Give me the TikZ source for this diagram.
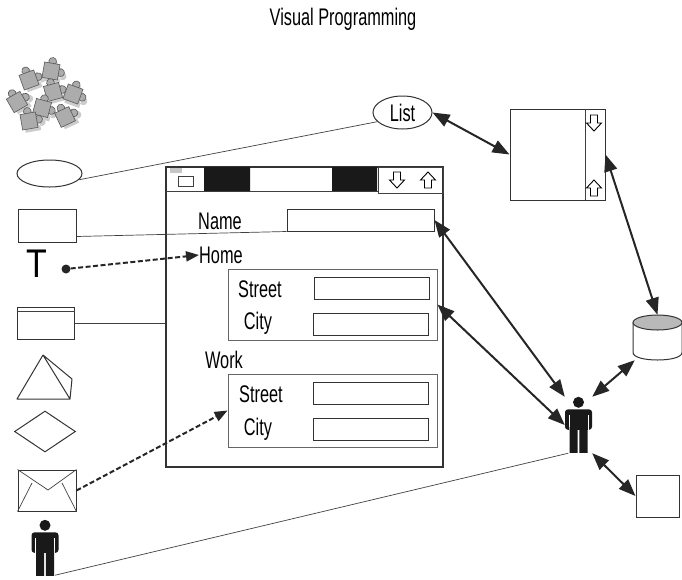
\documentclass[tikz,border=0pt]{standalone}
\usepackage{fontspec}
\setmainfont{Liberation Sans}[FakeStretch=0.68]
\newfontfamily\glyphfont{Liberation Sans}[FakeStretch=0.85]
\usetikzlibrary{arrows.meta,shapes.geometric}

\begin{document}
\begin{tikzpicture}[x=1pt,y=-1pt,
  wire/.style={draw=black!75,line width=0.7pt},
  tool/.style={draw=black!80,line width=1pt,inner sep=0pt},
  word/.style={font=\fontsize{24}{24}\selectfont,inner sep=0pt},
  field/.style={draw=black!80,line width=1pt,minimum width=115pt,minimum height=22pt,inner sep=0pt},
  group/.style={draw=black!60,line width=0.9pt,minimum width=209pt,inner sep=0pt},
  agent/.style={minimum width=27pt,minimum height=56pt,inner sep=0pt},
  link/.style={<->,draw=black!85,line width=2pt,>={Triangle[length=17pt,width=13pt]}},
  flow/.style={->,draw=black!85,line width=2pt,dash pattern=on 5pt off 2.5pt,>={Triangle[length=13pt,width=10pt]}},
  person/.pic={
    \fill[black!90] (0,5.5) circle[radius=5.5];
    \fill[black!90,rounded corners=3pt] (-13.5,12.5) rectangle (13.5,33);
    \draw[white,line width=0.8pt] (-9.5,18) -- (-9.5,34) (9.5,18) -- (9.5,34);
    \fill[black!90] (-9,30) rectangle (-0.8,56) (0.8,30) rectangle (9,56);
  },
  downarrow/.pic={
    \draw[line width=0.9pt,fill=white] (-3.5,-8) -- (3.5,-8) -- (3.5,0) -- (7.5,0) -- (0,8) -- (-7.5,0) -- (-3.5,0) -- cycle;
  },
  uparrow/.pic={
    \draw[line width=0.9pt,fill=white] (-3.5,8) -- (3.5,8) -- (3.5,0) -- (7.5,0) -- (0,-8) -- (-7.5,0) -- (-3.5,0) -- cycle;
  },
  piece/.pic={
    \fill[gray!40] (2,-4.5) circle[radius=3] (9.5,2.5) circle[radius=3] (-4,-3.5) rectangle (8,8.5);
    \filldraw[fill=gray!65,draw=black!65,line width=0.6pt] (0,-7.5) circle[radius=3] (7.5,0) circle[radius=3];
    \filldraw[fill=gray!65,draw=black!65,line width=0.6pt] (-6,-6) rectangle (6,6);
  }]
  \useasboundingbox (0,0) rectangle (682,579);

  \node[font=\fontsize{24}{24}\selectfont,inner sep=0pt] (title) at (343,19) {Visual Programming};

  % palette
  \foreach \x/\y/\a in {29/80/20,51/71/-10,53/92/15,73/94/-20,17/102/30,42/108/-15,29/121/10,65/117/25}
    \pic[rotate=\a,scale=1.3] at (\x,\y) {piece};
  \node[tool,ellipse,minimum width=65pt,minimum height=27pt] (p_oval) at (49.5,173.5) {};
  \node[tool,minimum width=58pt,minimum height=33pt] (p_box) at (47,225.5) {};
  \node[font=\glyphfont\fontsize{40}{40}\selectfont,inner sep=0pt] (p_text) at (37,264) {T};
  \node[circle,fill=black!85,inner sep=0pt,minimum size=9pt] (p_dot) at (66,269) {};
  \node[tool,minimum width=57pt,minimum height=32pt] (p_win) at (45.5,323) {};
  \draw[wire] ([yshift=-5pt]p_win.north west) -- ([yshift=-5pt]p_win.north east);
  \draw[tool,line join=round] (43,355) -- (17,399) -- (70,399) -- cycle (43,355) -- (72,379) -- (70,399);
  \node[tool,diamond,minimum width=61pt,minimum height=41pt] (p_choice) at (45,431.5) {};
  \node[tool,minimum width=58pt,minimum height=41pt] (p_mail) at (47,490.5) {};
  \draw[wire] (p_mail.north west) -- (48,490) -- (p_mail.north east);
  \draw[wire] (p_mail.south west) -- (32,483) (p_mail.south east) -- (62,483);
  \node[agent,minimum width=26pt,minimum height=55pt] (p_user) at (45,547.5) {};
  \pic at (p_user.north) {person};

  % form window
  \node[tool,line width=1.2pt,minimum width=277pt,minimum height=300pt] (form) at (304.5,317) {};
  \draw[wire,line width=1pt] (166,191) -- (378,191);
  \fill[black!90] (204,167) rectangle (250,191) (332,167) rectangle (377,191);
  \draw[wire,line width=1pt] (378,167) rectangle (443,193);
  \fill[gray!45] (170,168) rectangle (182,173);
  \draw[wire,line width=1pt] (178,176) rectangle (193,186);
  \pic at (397,180) {downarrow};
  \pic at (428,180) {uparrow};

  \node[word] (l_name) at (220,221) {Name};
  \node[field,minimum width=147pt] (f_name) at (360.5,220) {};
  \node[word,anchor=west] (l_home) at (199,255) {Home};
  \node[group,minimum height=71pt] (g_home) at (332.5,304.5) {};
  \node[word] (l_street1) at (260,289) {Street};
  \node[field] (f_street1) at (372,288) {};
  \node[word] (l_city1) at (258,323) {City};
  \node[field] (f_city1) at (371,324) {};
  \node[word] (l_work) at (224,360) {Work};
  \node[group,minimum height=73pt] (g_work) at (332.5,410.5) {};
  \node[word] (l_street2) at (261,394) {Street};
  \node[field] (f_street2) at (371,393) {};
  \node[word] (l_city2) at (258,429) {City};
  \node[field] (f_city2) at (371,429) {};

  % data sources
  \node[tool,word,ellipse,minimum width=59pt,minimum height=33pt] (list) at (402.5,112.5) {List};
  \node[tool,minimum width=95pt,minimum height=91pt] (listbox) at (557.5,154.5) {};
  \draw[wire,line width=1pt] (585,109) -- (585,200);
  \pic at (594,123) {downarrow};
  \pic at (594,188) {uparrow};
  \node[minimum width=49pt,minimum height=45pt,inner sep=0pt] (store) at (657.5,337.5) {};
  \filldraw[fill=white,draw=black!80,line width=1pt] (633,322.5) -- (633,352.5)
    .. controls (633,362.5) and (682,362.5) .. (682,352.5) -- (682,322.5);
  \filldraw[fill=gray!55,draw=black!80,line width=1pt] (657.5,322.5) ellipse[x radius=24.5,y radius=7.5];
  \node[agent] (user) at (578.5,425) {};
  \pic at (user.north) {person};
  \node[tool,minimum width=43pt,minimum height=42pt] (screen) at (657.5,496) {};

  \draw[wire] (p_oval.-12) -- (list.200);
  \draw[wire] ([yshift=-11pt]p_box.east) -- (f_name.south west);
  \draw[wire] (p_win.east) -- (p_win.east -| form.west);
  \draw[wire] (p_user.-70) -- (user.-110);
  \draw[flow] (p_dot) -- (l_home.west);
  \draw[flow] (p_mail.east) -- (g_work.west);
  \draw[link] (f_name.east) -- (user.north west);
  \draw[link] (g_home.east) -- (user.west);
  \draw[link] (list.east) -- (listbox.west);
  \draw[link] (listbox.east) -- (store.north);
  \draw[link] (store.225) -- (user.north east);
  \draw[link] (user.south east) -- (screen.west);
\end{tikzpicture}
\end{document}
